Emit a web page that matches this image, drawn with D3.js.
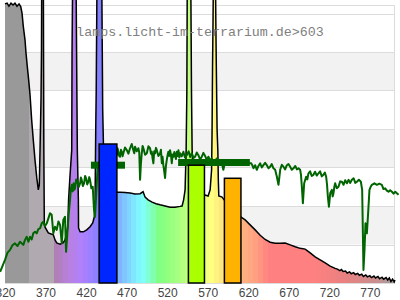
<!DOCTYPE html>
<html>
<head>
<meta charset="utf-8">
<script src="https://cdn.jsdelivr.net/npm/d3@7"></script>
<style>
  body { margin: 0; background: #fff; }
  svg { display: block; }
</style>
</head>
<body>
<div class="chart"></div>
<script>
const w = 400;
const h = 300;

// lamp spectrum (nm, relative value)
const lampNm = [320, 322.5, 324.9, 327.4, 329.9, 332.3, 334.8, 337.3, 339.4, 341, 342.6, 344.7, 345.9, 347.5, 349.2, 350.9, 352.9, 354.9, 357, 359.1, 361.1, 362.3, 363.2, 364.4, 365, 365.3, 367.3, 367.6, 367.9, 368.5, 369.4, 373.4, 379.6, 381.7, 383.8, 387.9, 391.9, 394, 396.1, 397.4, 398.4, 400.2, 402.3, 402.7, 403.5, 407.6, 408.4, 409.2, 410.5, 410.7, 412.6, 416.6, 420.8, 424.9, 428.2, 430.2, 431.1, 431.9, 432.5, 433.5, 439.3, 440.5, 442, 445, 450, 458.2, 461.9, 468.1, 474.2, 480.4, 486.6, 490.3, 492.8, 496.5, 501.4, 506.3, 511.3, 517.4, 523.6, 529.8, 535.9, 538.4, 540.3, 542.1, 543.4, 544.3, 544.8, 549.1, 550, 550.8, 552, 555, 560, 565.6, 570.5, 573, 574.8, 575.4, 576, 576.6, 577, 579.6, 580, 580.6, 581.6, 582.5, 583.1, 583.7, 587.7, 590.2, 600, 611.2, 616.2, 622.3, 628.5, 634.7, 640.8, 647, 653.2, 659.4, 665.5, 671.7, 677.9, 684, 690.2, 696.4, 702.5, 708.7, 714.9, 721, 727.2, 730, 733, 735, 737, 740, 742, 745, 747, 750, 752, 755, 757, 760, 762, 765, 767, 770, 772, 775, 777, 780, 782, 785, 787, 790, 792, 794, 796, 798, 800, 801];
const lampVal = [72.5, 72.7, 71.9, 72.7, 72.2, 72.7, 71.9, 72.5, 71.8, 70.1, 66.6, 63.1, 59.7, 56.2, 52.7, 48.8, 42.3, 37.1, 31.9, 27.5, 24.2, 25.5, 34.5, 47.5, 60, 80, 80, 55, 34.5, 15.1, 14.5, 13, 12.5, 11.2, 10.4, 10.1, 10.5, 11.2, 13, 14.5, 21.6, 28, 34.5, 60.5, 80, 80, 56.6, 34.5, 21.6, 14.3, 13.3, 13.3, 13.8, 14.6, 15.6, 17.2, 21.6, 39.7, 50, 80, 80, 45, 30, 25, 24, 23.6, 23.6, 23.5, 23.4, 23.1, 23.2, 23.7, 22.3, 21.6, 21, 20.6, 20.3, 20, 19.7, 19.7, 19.9, 20, 21.6, 24.2, 34.5, 50, 80, 80, 50, 34.5, 28, 25, 23.5, 22.9, 22.6, 24.2, 29.4, 39.7, 56.6, 68.3, 80, 80, 68.3, 56.6, 39.7, 34.5, 26.8, 22.6, 22.3, 21.6, 20, 17.1, 16.4, 15.1, 13.8, 12.4, 11.3, 10.6, 10.3, 10.3, 10.4, 9.9, 9.4, 9.0, 8.8, 7.8, 6.8, 6.0, 5.2, 4.4, 3.8, 3.6, 3.2, 3.5, 3.0, 3.1, 2.6, 2.9, 2.4, 2.7, 2.2, 2.5, 2.0, 2.3, 1.7, 2.1, 1.6, 1.9, 1.4, 1.8, 1.3, 1.7, 1.1, 1.5, 1.0, 1.4, 0.8, 1.3, 0.4, 1.0, 0.3, 0.8];

// daylight reference curve
const sunNm = [314, 320, 323.1, 326.2, 329.2, 332.3, 335.4, 338.5, 342.6, 344.7, 346.8, 348.8, 350.9, 352.9, 354.9, 357, 359.1, 361.1, 363.2, 365.3, 367.3, 369.4, 371.5, 373.5, 375.5, 377.6, 379.6, 381.7, 383.8, 385.9, 387.9, 390, 391.9, 394, 395.3, 396.9, 398.6, 400.2, 401.3, 402.3, 403.5, 404.6, 405.5, 406.4, 407.8, 409.2, 410.8, 412.6, 413.6, 414.6, 416, 417.5, 418.8, 420, 421.4, 422.8, 423.9, 424.9, 426.5, 428.2, 429.8, 431.1, 432.3, 433.9, 435.1, 443.4, 449.6, 457.8, 458.8, 459.8, 460.9, 461.9, 463, 464, 465, 466, 468, 470.2, 472.2, 474.2, 476.3, 478.3, 479.4, 480.4, 482.5, 484.5, 485.6, 486.6, 487.6, 488.7, 489.7, 490.7, 492.8, 494.9, 496.9, 498.9, 500, 501, 502, 503, 504, 505.1, 506.2, 507.2, 509.2, 511.3, 512.3, 513.4, 514.3, 515.3, 516.4, 517.4, 518.5, 519.5, 520.5, 521.5, 522.5, 523.6, 524.6, 525.7, 526.7, 527.7, 528.8, 529.8, 530.8, 531.9, 532.9, 533.9, 535, 536, 538, 540, 542, 544.2, 546.5, 548.4, 550.4, 552.5, 554.5, 556.5, 558.5, 560.6, 562.7, 564.7, 566.8, 568.9, 570.9, 573, 575, 577, 579.1, 581, 583.1, 585, 587, 589.3, 591.4, 603.8, 616.2, 623.6, 625, 626.4, 628.5, 630.6, 632.6, 634.7, 636.7, 638.7, 640.8, 642.9, 645, 647, 649, 651.1, 653.2, 655.3, 657.3, 659.4, 661.4, 663.4, 665.5, 667.6, 669.6, 671.7, 673.7, 675.8, 678, 680, 681.9, 684, 685.1, 686.1, 687.4, 689, 691.4, 692.8, 694.3, 696.3, 698.3, 700.4, 702.4, 704.5, 706.6, 708.6, 710.7, 712.8, 714.5, 716.1, 717.2, 718.2, 719.5, 720.3, 721.1, 723.1, 724.1, 725.1, 726.2, 727.2, 729.2, 731.3, 733.4, 735.5, 737.5, 739.6, 741.7, 743.7, 745.8, 747.8, 750, 752, 754, 756.5, 758.9, 760.5, 761.4, 762.1, 763.4, 764.6, 766.3, 767.6, 769.5, 771, 772.5, 775.6, 778.7, 781.7, 784.8, 786.8, 788.9, 791, 793, 795, 797.2, 799.2, 801.3, 803.3, 805.4];
const sunVal = [2.9, 6.0, 7.9, 8.6, 9.8, 10.3, 9.6, 10.7, 9.9, 11.2, 12.0, 10.7, 12.0, 11.3, 12.9, 13.3, 12.9, 14.0, 14.2, 15.5, 15.9, 14.8, 15.5, 16.8, 18.1, 17.7, 12.9, 14.6, 13.8, 16.0, 15.1, 10.3, 16.4, 17.2, 8.1, 12.9, 18.1, 21.6, 24.5, 25.5, 23.8, 25.9, 24.2, 24.7, 26.9, 26.3, 24.9, 25.9, 27.4, 26.8, 25.2, 25.9, 27.8, 27.2, 25.6, 26.3, 27.5, 26.8, 24.6, 25, 19, 17.2, 22.4, 28.5, 31.1, 33.2, 34.0, 33.2, 35.0, 34.1, 33.0, 32.8, 34.6, 34.1, 32.9, 33.7, 35.2, 34.5, 33.6, 35.0, 36.1, 34.5, 33.7, 35.4, 34.2, 35.0, 33.9, 26.8, 31.0, 33.7, 35.6, 35.0, 33.3, 33.7, 35.5, 35.0, 33.6, 34.1, 32.4, 31.1, 34.2, 33.7, 35.1, 34.5, 33.0, 33.7, 34.6, 31.1, 32.8, 30.6, 29.0, 27.3, 30.5, 31.9, 33.2, 34.1, 33.0, 34.5, 33.4, 31.1, 33.4, 32.8, 34.0, 33.2, 32.2, 34.1, 33.0, 34.5, 32.6, 33.7, 32.9, 34.1, 32.6, 33.2, 34.2, 32.7, 33.7, 32.5, 32.8, 33.9, 33.2, 32.1, 32.8, 33.8, 33.0, 32.0, 32.8, 31.7, 32.4, 31.2, 31.5, 32.3, 31.9, 30.9, 31.5, 29.4, 31.5, 31.4, 31.2, 31.1, 30.6, 29.8, 30.6, 29.4, 30.4, 31.1, 30.0, 30.6, 31.2, 30.6, 29.8, 30.2, 30.9, 29.8, 29.4, 27.6, 25.5, 29.4, 30.7, 30.2, 29.5, 30.6, 30.9, 30.2, 29.4, 29.8, 30.4, 29.5, 29.8, 29.4, 28.0, 25.0, 20.7, 25.9, 27.6, 26.9, 28.5, 29.0, 27.8, 28.1, 28.9, 27.9, 28.5, 29.0, 27.7, 28.1, 28.7, 27.6, 25.5, 22.4, 19.8, 21.5, 23.3, 24.2, 22.5, 23.3, 25.0, 25.9, 24.6, 25.0, 26.4, 26.3, 25.5, 26.7, 25.9, 26.8, 26.0, 26.8, 27.2, 26.0, 26.3, 26.8, 26.3, 24.2, 12.9, 3.4, 8.6, 15.5, 12.9, 17.2, 24.2, 25.0, 25.5, 25.9, 25.5, 25.8, 25.5, 24.4, 24.6, 24.0, 23.7, 24.1, 23.7, 23.2, 23.7, 23.3, 22.9];

// band bars
const barFrom = [436.1, 546.2, 590.6];
const barTo = [458, 566, 611];
const barVal = [36.1, 30.6, 27.2];

// daylight band levels
const levelFrom = [426, 533.5];
const levelTo = [468, 622];
const levelVal = [30.6, 31.3];

const tickNm = [320, 370, 420, 470, 520, 570, 620, 670, 720, 770];

// colours
const barColors = ["#0026ff", "#aaff00", "#ffb300"];
const specStops = [320, 350.9, 351, 381.9, 382, 400, 415, 430, 440, 455, 465, 480, 490, 500, 510, 530, 545, 560, 575, 590, 600, 615, 630, 645, 700, 740, 780, 801];
const specColors = ["#999999", "#999999", "#b0a9b0", "#b0a9b0", "#b07fb0", "#b880e0", "#b080ff", "#9080ff", "#8080ff", "#80a0ff", "#80c0ff", "#80e8ff", "#80ffff", "#80ffc0", "#80ff80", "#a0ff80", "#c0ff80", "#e0ff80", "#ffff80", "#ffe080", "#ffc080", "#ffb080", "#ffa080", "#ff8080", "#ff8080", "#e88080", "#c89090", "#a0a0a0"];

const x = d3.scaleLinear().domain([320, 801]).range([5, 395]);
const y = d3.scaleLinear().domain([0, 70]).range([283, 13.5]);
const color = d3.scaleLinear().domain(specStops).range(specColors);

const svg = d3.select(".chart")
    .append("svg")
    .attr("width", w)
    .attr("height", h)
    .style("font-family", "'Liberation Sans', Arial, sans-serif");

svg.append("rect").attr("width", w).attr("height", h).attr("fill", "#fff");

// alternating bands
svg.append("g")
    .selectAll("rect")
    .data([10, 30, 50])
    .enter()
    .append("rect")
    .attr("x", x(320))
    .attr("width", x(801) - x(320))
    .attr("y", (d) => y(d + 10))
    .attr("height", (d) => y(d) - y(d + 10))
    .attr("fill", "#f2f2f2");

svg.append("g")
    .attr("shape-rendering", "crispEdges")
    .selectAll("line")
    .data(d3.range(0, 71, 10))
    .enter()
    .append("line")
    .attr("x1", x(320))
    .attr("x2", x(801))
    .attr("y1", (d) => Math.round(y(d)) + 0.5)
    .attr("y2", (d) => Math.round(y(d)) + 0.5)
    .attr("stroke", "#dcdcdc");

svg.append("rect")
    .attr("x", x(320) + 0.5)
    .attr("y", 5.5)
    .attr("width", x(801) - x(320) - 1)
    .attr("height", 283 - 5)
    .attr("fill", "none")
    .attr("stroke", "#dcdcdc")
    .attr("shape-rendering", "crispEdges");

// lamp spectrum
const lamp = lampNm.map((d, i) => [d, lampVal[i]]);
const area = d3.area().x((d) => x(d[0])).y0(y(0)).y1((d) => y(d[1]));
const line = d3.line().x((d) => x(d[0])).y((d) => y(d[1]));

svg.append("clipPath")
    .attr("id", "spec-clip")
    .append("path")
    .attr("d", area(lamp));

svg.append("g")
    .attr("clip-path", "url(#spec-clip)")
    .attr("shape-rendering", "crispEdges")
    .selectAll("rect")
    .data(d3.range(320, 801, 6))
    .enter()
    .append("rect")
    .attr("x", (d) => x(d))
    .attr("width", (d) => x(Math.min(d + 6, 801)) - x(d) + 0.5)
    .attr("y", -40)
    .attr("height", 323)
    .attr("fill", (d) => color(Math.min(d + 3, 801)));

svg.append("path")
    .attr("d", line(lamp))
    .attr("fill", "none")
    .attr("stroke", "#000")
    .attr("stroke-width", 1.5);

// daylight curve
const sun = sunNm.map((d, i) => [d, sunVal[i]]);
svg.append("path")
    .attr("d", line(sun))
    .attr("fill", "none")
    .attr("stroke", "#006400")
    .attr("stroke-width", 2)
    .attr("stroke-linejoin", "round");

svg.append("g")
    .selectAll("rect")
    .data(levelFrom)
    .enter()
    .append("rect")
    .attr("x", (d) => x(d))
    .attr("width", (d, i) => x(levelTo[i]) - x(d))
    .attr("y", (d, i) => y(levelVal[i]) - 3.5)
    .attr("height", 7)
    .attr("fill", "#006400");

// bars
svg.append("g")
    .selectAll("rect")
    .data(barFrom)
    .enter()
    .append("rect")
    .attr("x", (d) => x(d))
    .attr("width", (d, i) => x(barTo[i]) - x(d))
    .attr("y", (d, i) => y(barVal[i]))
    .attr("height", (d, i) => y(0) - y(barVal[i]))
    .attr("fill", (d, i) => barColors[i])
    .attr("stroke", "#000")
    .attr("stroke-width", 1.5);

// x axis labels
const axis = svg.append("g")
    .attr("transform", `translate(0, ${y(0)})`)
    .call(d3.axisBottom(x).tickValues(tickNm).tickSize(0).tickPadding(5.5));
axis.select(".domain").remove();
axis.selectAll("text")
    .style("font-size", "12px")
    .style("font-family", "'Liberation Sans', Arial, sans-serif")
    .attr("fill", "#444");

svg.append("text")
    .attr("x", 200)
    .attr("y", 36)
    .attr("text-anchor", "middle")
    .style("font-family", "'Liberation Mono', 'DejaVu Sans Mono', monospace")
    .style("font-size", "13.3px")
    .attr("fill", "#808080")
    .text("lamps.licht-im-terrarium.de>603");
</script>
</body>
</html>
